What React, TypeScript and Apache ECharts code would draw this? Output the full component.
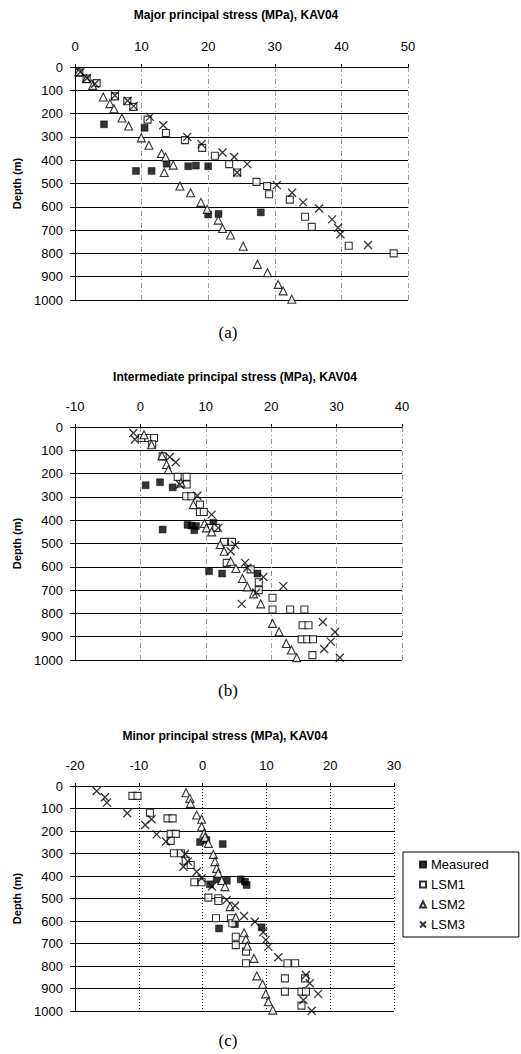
import React, { useEffect, useRef } from "react";
import * as echarts from "echarts";

// ---------- data: [stress (MPa), depth (m)] ----------
const seriesNames = ["Measured", "LSM1", "LSM2", "LSM3"];
const panelTitles = [
  "Major principal stress (MPa), KAV04",
  "Intermediate principal stress (MPa), KAV04",
  "Minor principal stress (MPa), KAV04",
];
const panelCaptions = ["(a)", "(b)", "(c)"];
const xRanges = [
  [0, 50],
  [-10, 40],
  [-20, 30],
];

// (a) Major principal stress
const majorMeasured = [
  [4.35, 246], [10.45, 261], [9.15, 446], [11.5, 446], [13.75, 415], [17, 426],
  [18.15, 423], [20, 426], [20, 633], [21.55, 631], [27.9, 624],
];
const majorLSM1 = [
  [0.65, 24], [1.75, 50], [3.25, 69], [6, 126], [7.85, 147], [8.75, 171], [10.9, 226],
  [13.65, 283], [16.5, 314], [19.1, 347], [21, 381], [23.15, 417], [24.35, 453],
  [27.25, 493], [28.85, 511], [29.15, 546], [32.25, 569], [34.55, 643], [35.55, 686],
  [41.1, 767], [47.85, 800],
];
const majorLSM2 = [
  [0.6, 20], [1.7, 50], [2.65, 79], [4.25, 129], [5.25, 157], [5.85, 179], [7.05, 219],
  [8.05, 253], [9.95, 304], [11.1, 336], [13, 371], [13.6, 386], [14.75, 421], [13.4, 453],
  [15.75, 511], [17.35, 540], [18.9, 581], [19.85, 611], [21.5, 657], [22.15, 693],
  [23.35, 721], [25.25, 769], [27.4, 847], [28.9, 883], [30.5, 933], [31.25, 961], [32.55, 997],
];
const majorLSM3 = [
  [0.8, 22], [1.8, 48], [3.0, 72], [6, 122], [7.9, 145], [8.8, 168], [11.25, 214],
  [13.25, 250], [16.85, 300], [19, 331], [22.15, 367], [23.9, 386], [25.85, 417],
  [24.35, 453], [30.3, 507], [32.6, 540], [34.25, 581], [36.65, 607], [38.6, 654],
  [39.5, 690], [39.85, 718], [44, 764],
];

// (b) Intermediate principal stress
const interMeasured = [
  [0.8, 250], [3.0, 237], [4.93, 259], [3.4, 440], [7.2, 420], [7.84, 423], [8.5, 425],
  [8.24, 443], [11.15, 411], [10.5, 619], [12.5, 629], [17.9, 629],
];
const interLSM1 = [
  [0.19, 47], [1.21, 47], [2.08, 47], [1.8, 74], [3.4, 126], [5.7, 214], [7.07, 214],
  [7.07, 247], [7.0, 297], [7.8, 297], [9.1, 333], [9.1, 365], [9.7, 365], [10.6, 433],
  [11.6, 433], [12.8, 493], [14.0, 493], [13.2, 583], [16.86, 611], [18.1, 666], [18.1, 700],
  [20.2, 733], [20.2, 783], [22.9, 783], [25.07, 783], [24.8, 851], [25.7, 851],
  [24.66, 911], [25.5, 911], [26.4, 911], [26.3, 979],
];
const interLSM2 = [
  [0.55, 33], [1.7, 76], [3.3, 123], [4.0, 161], [4.27, 183], [6.2, 240], [8.1, 333],
  [9.8, 414], [10.1, 433], [10.9, 450], [12.2, 504], [12.8, 533], [13.8, 576], [14.6, 607],
  [15.6, 650], [16.35, 686], [17.3, 716], [18.4, 759], [20.2, 843], [21.2, 879],
  [22.3, 929], [23.1, 957], [23.9, 990],
];
const interLSM3 = [
  [-1.08, 26], [-0.83, 54], [4.5, 129], [5.4, 151], [6.05, 247], [8.7, 295], [10.9, 376],
  [11.9, 433], [14.5, 507], [13.8, 533], [16.0, 583], [16.35, 604], [18.8, 644], [17.7, 711],
  [21.85, 683], [15.5, 759], [27.9, 837], [29.75, 880], [29.1, 921], [28.1, 953], [30.5, 990],
];

// (c) Minor principal stress
const minorMeasured = [
  [-0.4, 249], [0.6, 240], [3.15, 258], [1.16, 437], [2.2, 415], [3.8, 421], [5.97, 415],
  [6.65, 425], [6.9, 440], [5.07, 614], [2.57, 633], [9.25, 628],
];
const minorLSM1 = [
  [-11, 44], [-10.2, 44], [-8.25, 119], [-5.5, 144], [-4.7, 144], [-5.0, 213], [-4.2, 213],
  [-5.0, 244], [-4.5, 299], [-3.4, 299], [-2.65, 332], [-1.87, 351], [-1.3, 428], [-0.15, 428],
  [0.9, 496], [2.47, 499], [2.47, 511], [2.1, 588], [4.45, 588], [4.66, 610], [5.2, 670],
  [5.2, 707], [6.8, 736], [6.8, 788], [13.3, 788], [14.5, 788], [12.9, 855], [16.05, 855],
  [12.9, 914], [15.5, 914], [16.2, 914], [15.5, 976],
];
const minorLSM2 = [
  [-2.6, 30], [-2.0, 55], [-1.9, 77], [-0.93, 129], [-0.15, 148], [-0.15, 181], [0.22, 210],
  [0.38, 228], [0.9, 255], [1.68, 304], [1.94, 336], [2.2, 366], [2.45, 388], [3.0, 420],
  [3.5, 447], [4.3, 536], [5.2, 584], [6.5, 652], [6.8, 681], [7.0, 711], [8.05, 766],
  [8.5, 844], [9.4, 881], [9.9, 924], [10.3, 959], [11.0, 996],
];
const minorLSM3 = [
  [-16.6, 22], [-15.3, 50], [-15.0, 74], [-11.8, 121], [-8.0, 148], [-9.0, 173], [-7.2, 215],
  [-5.74, 247], [-2.76, 302], [-2.3, 335], [-3.0, 359], [-0.93, 381], [-0.15, 410],
  [1.47, 447], [3.77, 507], [5.1, 532], [6.5, 578], [8.2, 603], [9.5, 650], [9.9, 684],
  [10.3, 714], [11.87, 761], [16.2, 840], [16.8, 877], [18.1, 924], [15.8, 951], [17.1, 999],
];

const panelData = [
  [majorMeasured, majorLSM1, majorLSM2, majorLSM3],
  [interMeasured, interLSM1, interLSM2, interLSM3],
  [minorMeasured, minorLSM1, minorLSM2, minorLSM3],
];

// ---------- layout / style ----------
const FONT = "'Liberation Sans', Arial, sans-serif";
const grids = [
  { left: 75, top: 67, width: 333, height: 233 },
  { left: 75, top: 427, width: 327, height: 233 },
  { left: 75, top: 786, width: 319, height: 225 },
];
const titlePos = [
  [236, 15],
  [235, 377],
  [225, 736],
];
const captionPos = [
  [228, 332],
  [228, 690],
  [228, 1040],
];
const vSplit = [
  { color: "#999", type: [5, 3, 1, 3], width: 1 },
  { color: "#999", type: [5, 3, 1, 3], width: 1 },
  { color: "#000", type: [1, 2], width: 1 },
];

const CROSS = "path://M0,0L10,10M10,0L0,10";
const symbolDefs = [
  { symbol: "rect", symbolSize: 7, itemStyle: { color: "#000", borderColor: "#000", borderWidth: 0.5 } },
  { symbol: "rect", symbolSize: 7, itemStyle: { color: "#fff", borderColor: "#000", borderWidth: 1.1 } },
  { symbol: "triangle", symbolSize: 8, itemStyle: { color: "#fff", borderColor: "#000", borderWidth: 1.1 } },
  { symbol: CROSS, symbolSize: 8, itemStyle: { color: "transparent", borderColor: "#000", borderWidth: 1.3 } },
];

export default function App() {
  const ref = useRef<HTMLDivElement>(null);

  useEffect(() => {
    if (!ref.current) return;
    const chart = echarts.init(ref.current, null, { renderer: "svg" });

    const xAxis = grids.map((_, i) => ({
      type: "value",
      gridIndex: i,
      position: "top",
      min: xRanges[i][0],
      max: xRanges[i][1],
      interval: 10,
      axisLine: { show: true, onZero: false, lineStyle: { color: "#000", width: 1 } },
      axisTick: { show: true, length: 3, lineStyle: { color: "#000" } },
      axisLabel: { color: "#000", fontSize: 13, fontFamily: FONT, margin: 14 },
      splitLine: { show: true, lineStyle: vSplit[i] },
    }));

    const yAxis = grids.map((_, i) => ({
      type: "value",
      gridIndex: i,
      inverse: true,
      min: 0,
      max: 1000,
      interval: 100,
      name: "Depth (m)",
      nameLocation: "middle",
      nameGap: 53,
      nameRotate: 90,
      nameTextStyle: { color: "#000", fontSize: 11, fontWeight: "bold", fontFamily: FONT },
      axisLine: { show: true, onZero: false, lineStyle: { color: "#000", width: 1 } },
      axisTick: { show: true, length: 5, lineStyle: { color: "#000" } },
      axisLabel: {
        color: "#000",
        fontSize: 13,
        fontFamily: FONT,
        margin: 12,
        formatter: (v: number) => String(v),
      },
      splitLine: { show: true, lineStyle: { color: "#000", width: 1 } },
    }));

    const series: any[] = [];
    panelData.forEach((sets, p) => {
      sets.forEach((data, s) => {
        series.push({
          type: "scatter",
          name: seriesNames[s],
          xAxisIndex: p,
          yAxisIndex: p,
          data,
          symbol: symbolDefs[s].symbol,
          symbolSize: symbolDefs[s].symbolSize,
          itemStyle: symbolDefs[s].itemStyle,
          z: 2 + s,
        });
      });
    });

    const graphic: any[] = [];
    panelTitles.forEach((t, i) => {
      graphic.push({
        type: "text",
        x: titlePos[i][0],
        y: titlePos[i][1],
        style: {
          text: t,
          fill: "#000",
          font: `bold 12px ${FONT}`,
          textAlign: "center",
          textVerticalAlign: "middle",
        },
      });
    });
    panelCaptions.forEach((t, i) => {
      graphic.push({
        type: "text",
        x: captionPos[i][0],
        y: captionPos[i][1],
        style: {
          text: t,
          fill: "#000",
          font: `17px 'Liberation Serif', 'Times New Roman', serif`,
          textAlign: "center",
          textVerticalAlign: "middle",
        },
      });
    });

    chart.setOption({
      animation: false,
      backgroundColor: "#fff",
      grid: grids.map((g) => ({ ...g, containLabel: false })),
      xAxis,
      yAxis,
      legend: {
        data: seriesNames,
        orient: "vertical",
        left: 403,
        top: 852,
        padding: [6, 30, 6, 16],
        itemGap: 7,
        itemWidth: 6,
        itemHeight: 6,
        borderColor: "#000",
        borderWidth: 1,
        backgroundColor: "#fff",
        textStyle: { color: "#000", fontSize: 13, fontFamily: FONT },
        selectedMode: false,
      },
      series,
      graphic,
    });

    return () => chart.dispose();
  }, []);

  return (
    <div
      ref={ref}
      style={{ position: "absolute", left: 0, top: 0, width: 521, height: 1054, background: "#fff" }}
    />
  );
}
